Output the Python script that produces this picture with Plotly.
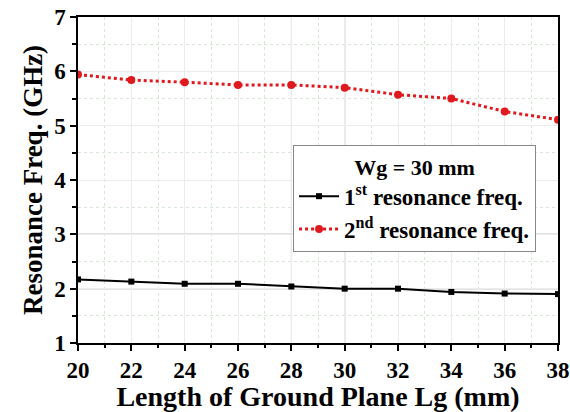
import plotly.graph_objects as go

lg = [20, 22, 24, 26, 28, 30, 32, 34, 36, 38]
f1 = [2.17, 2.13, 2.09, 2.09, 2.04, 2.00, 2.00, 1.94, 1.91, 1.90]
f2 = [5.94, 5.84, 5.80, 5.75, 5.75, 5.70, 5.57, 5.50, 5.26, 5.11]
name1 = "1<sup>st</sup> resonance freq."
name2 = "2<sup>nd</sup> resonance freq."
legend_title = "Wg = 30 mm"
x_title = "Length of Ground Plane Lg (mm)"
y_title = "Resonance Freq. (GHz)"

FONT = "Liberation Serif, Times New Roman, serif"

fig = go.Figure()
fig.add_trace(go.Scatter(x=lg, y=f1, name=name1, mode="lines+markers",
                         line=dict(color="black", width=2),
                         marker=dict(symbol="square", size=6, color="black")))
fig.add_trace(go.Scatter(x=lg, y=f2, name=name2, mode="lines+markers",
                         line=dict(color="#e0191e", width=3, dash="dot"),
                         marker=dict(symbol="circle", size=8, color="#e0191e")))

# darker reference grid lines seen in the figure
for yv in (2, 3):
    fig.add_shape(type="line", xref="paper", x0=0, x1=1, yref="y", y0=yv, y1=yv,
                  line=dict(color="#555555", width=1), layer="below")
fig.add_shape(type="line", xref="x", x0=30, x1=30, yref="paper", y0=0, y1=1,
              line=dict(color="#6a6a8a", width=1), layer="below")
fig.add_shape(type="line", xref="x", x0=28, x1=28, yref="paper", y0=0, y1=1,
              line=dict(color="#c8c8c8", width=1), layer="below")

fig.update_layout(
    width=570, height=412,
    margin=dict(l=78, r=12, t=17, b=69),
    paper_bgcolor="white", plot_bgcolor="white",
    font=dict(family=FONT, color="black"),
    showlegend=True,
    legend=dict(x=0.448, y=0.607, xanchor="left", yanchor="top",
                bgcolor="white", bordercolor="#888888", borderwidth=1,
                font=dict(family=FONT, size=23, color="black", weight="bold"),
                title=dict(text="<b>" + legend_title + "</b>", side="top center",
                           font=dict(family=FONT, size=22, color="black")),
                itemwidth=40, tracegroupgap=0),
)
fig.update_xaxes(
    range=[20, 38], tickvals=lg, ticks="outside", ticklen=6, tickwidth=1.5,
    tickcolor="black", showline=True, linecolor="black", linewidth=1.5, mirror=True,
    tickfont=dict(family=FONT, size=23, color="black", weight="bold"),
    title=dict(text="<b>" + x_title + "</b>", font=dict(family=FONT, size=28, color="black"),
               standoff=2),
    automargin=False,
    showgrid=True, gridcolor="#ececec", gridwidth=1, zeroline=False,
    minor=dict(dtick=1, ticks="outside", ticklen=3, tickcolor="black",
               showgrid=True, gridcolor="#d8e6d8", griddash="dot"),
)
fig.update_yaxes(
    range=[1, 7], dtick=1, ticks="outside", ticklen=6, tickwidth=1.5,
    tickcolor="black", showline=True, linecolor="black", linewidth=1.5, mirror=True,
    tickfont=dict(family=FONT, size=23, color="black", weight="bold"),
    title=dict(text="<b>" + y_title + "</b>", font=dict(family=FONT, size=27, color="black"),
               standoff=4),
    automargin=False,
    showgrid=True, gridcolor="#ececec", gridwidth=1, zeroline=False,
    minor=dict(dtick=0.5, ticks="outside", ticklen=4, tickcolor="black",
               showgrid=True, gridcolor="#d8e6d8", griddash="dot"),
)

fig.write_html("out.html")
